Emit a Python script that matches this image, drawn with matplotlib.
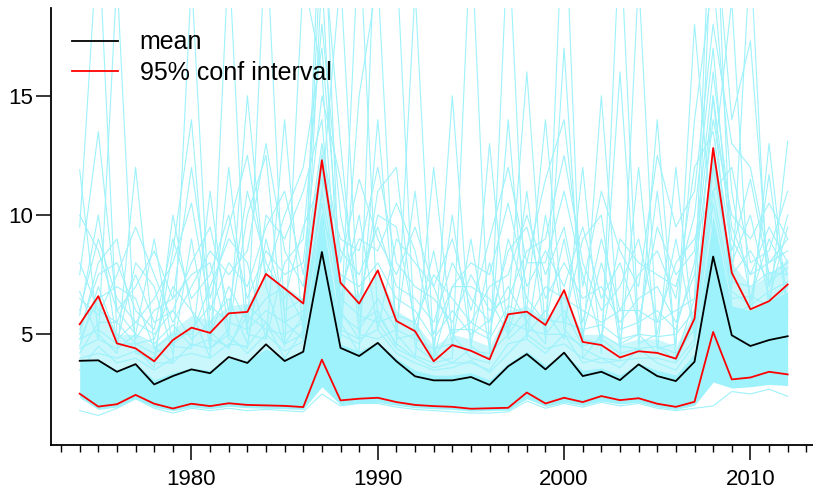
import matplotlib
matplotlib.use('Agg')
import matplotlib.pyplot as plt
from matplotlib.ticker import MultipleLocator

plt.rcParams['font.family'] = ['Liberation Sans', 'DejaVu Sans']

years = list(range(1974, 2013))

mean = [3.89, 3.91, 3.43, 3.75, 2.90, 3.25, 3.53, 3.37, 4.05, 3.80,
        4.58, 3.88, 4.27, 8.45, 4.43, 4.09, 4.64, 3.87, 3.24, 3.07,
        3.07, 3.21, 2.88, 3.66, 4.17, 3.53, 4.23, 3.25, 3.43, 3.08,
        3.74, 3.25, 3.04, 3.85, 8.26, 4.96, 4.51, 4.76, 4.92]
ci_upper = [5.42, 6.60, 4.62, 4.41, 3.87, 4.76, 5.28, 5.06, 5.88, 5.94,
            7.53, 6.92, 6.29, 12.30, 7.16, 6.29, 7.68, 5.56, 5.13, 3.87,
            4.55, 4.31, 3.95, 5.84, 5.95, 5.39, 6.85, 4.68, 4.55, 4.03,
            4.29, 4.22, 3.98, 5.66, 12.81, 7.58, 6.05, 6.39, 7.09]
ci_lower = [2.51, 1.97, 2.07, 2.46, 2.09, 1.89, 2.09, 1.99, 2.11, 2.04,
            2.02, 2.00, 1.95, 3.94, 2.23, 2.30, 2.34, 2.16, 2.04, 1.99,
            1.96, 1.88, 1.90, 1.92, 2.56, 2.10, 2.34, 2.16, 2.41, 2.24,
            2.32, 2.09, 1.96, 2.17, 5.10, 3.11, 3.19, 3.43, 3.32]

# the individual runs: dense core, looser middle, and the spiky ones on top
core_lo = [2.35, 1.85, 1.95, 2.30, 1.95, 1.80, 1.95, 1.88, 1.98, 1.92,
           1.90, 1.88, 1.85, 2.80, 2.05, 2.12, 2.15, 2.02, 1.92, 1.88,
           1.85, 1.78, 1.80, 1.82, 2.30, 1.98, 2.15, 2.02, 2.20, 2.08,
           2.15, 1.95, 1.85, 2.02, 3.00, 2.75, 2.80, 2.90, 2.85]
core_hi = [3.9, 3.9, 3.5, 3.8, 3.1, 3.4, 3.6, 3.5, 4.0, 3.9,
           4.4, 4.0, 4.3, 10.2, 4.6, 4.3, 4.7, 4.0, 3.5, 3.3,
           3.3, 3.4, 3.1, 3.8, 4.3, 3.7, 4.2, 3.5, 3.6, 3.3,
           3.8, 3.5, 3.3, 4.2, 10.0, 6.2, 6.0, 6.4, 6.8]
mid_hi = [5.5, 6.5, 5.0, 5.0, 4.5, 5.2, 5.8, 5.6, 6.2, 6.3,
          7.5, 7.0, 6.5, 13.0, 7.2, 6.5, 7.6, 6.0, 5.5, 4.5,
          5.0, 4.8, 4.5, 6.0, 6.2, 5.6, 6.8, 5.0, 5.0, 4.6,
          4.8, 4.8, 4.5, 6.0, 13.0, 8.0, 7.0, 7.5, 8.2]
runs = [
    [11.9, 5.0, 4.2, 12.0, 4.5, 3.8, 20.0, 5.1, 4.4, 6.2, 5.5, 4.0, 5.2, 25.0, 6.0, 4.8, 14.0, 5.0, 4.1, 3.8,
     4.0, 22.0, 4.2, 5.0, 6.1, 14.0, 5.2, 4.4, 4.0, 3.9, 20.0, 4.5, 3.9, 5.5, 15.0, 6.2, 5.4, 13.0, 6.0],
    [9.5, 22.0, 5.0, 4.4, 3.6, 10.0, 6.0, 4.0, 21.0, 5.0, 4.8, 14.0, 5.0, 11.0, 20.0, 5.5, 6.0, 4.5, 19.5, 4.2,
     3.8, 4.4, 13.0, 4.8, 5.5, 4.6, 24.0, 4.0, 5.0, 4.5, 4.4, 14.0, 4.0, 6.5, 26.0, 7.0, 21.0, 5.5, 6.5],
    [7.5, 13.5, 6.0, 5.0, 9.0, 4.5, 4.4, 11.0, 5.0, 15.0, 7.0, 4.5, 20.0, 16.0, 5.0, 22.0, 5.5, 4.4, 4.0, 12.0,
     5.0, 4.0, 3.8, 22.0, 5.0, 6.0, 4.8, 12.0, 4.2, 22.0, 5.0, 4.2, 12.0, 4.8, 12.0, 19.0, 5.8, 6.0, 13.1],
    [6.8, 4.8, 20.0, 4.2, 4.0, 8.5, 14.0, 4.6, 12.0, 5.0, 22.0, 5.5, 4.8, 20.0, 5.5, 4.2, 25.0, 21.0, 4.5, 3.9,
     15.0, 4.5, 4.0, 6.0, 16.0, 5.0, 5.0, 4.5, 15.0, 4.6, 5.0, 11.0, 4.5, 18.0, 9.0, 5.8, 6.2, 11.7, 5.8],
    [5.8, 10.0, 4.6, 8.0, 7.0, 4.2, 9.0, 4.4, 5.2, 10.0, 12.5, 4.6, 5.8, 22.0, 13.0, 5.0, 4.8, 5.2, 11.0, 4.4,
     10.0, 4.6, 8.0, 5.2, 11.0, 4.8, 17.0, 4.8, 4.6, 16.0, 4.6, 5.0, 9.0, 5.0, 23.0, 14.0, 17.3, 7.0, 10.0],
    [5.0, 8.0, 9.0, 4.8, 6.0, 6.5, 7.5, 8.0, 4.8, 4.4, 10.0, 9.0, 11.0, 14.0, 4.8, 15.0, 20.0, 4.8, 5.0, 8.5,
     4.6, 9.0, 4.4, 14.0, 4.8, 10.0, 5.5, 9.0, 10.0, 4.4, 12.0, 4.4, 4.6, 14.0, 20.0, 11.0, 6.5, 9.0, 7.5],
    [4.8, 6.5, 7.0, 6.5, 4.4, 5.0, 5.0, 7.0, 9.0, 8.0, 4.8, 8.0, 9.0, 18.0, 10.0, 6.0, 11.0, 12.0, 5.0, 4.0,
     7.0, 7.0, 6.5, 5.0, 8.0, 8.0, 11.0, 7.5, 4.8, 9.0, 8.0, 7.5, 7.0, 10.0, 17.0, 8.0, 10.0, 6.5, 9.5],
    [4.5, 7.0, 4.8, 5.5, 5.0, 6.0, 4.8, 5.5, 6.5, 4.6, 9.0, 6.0, 6.5, 12.0, 6.5, 10.0, 5.2, 9.0, 8.0, 7.0,
     5.0, 5.5, 5.0, 9.0, 6.5, 5.5, 9.0, 5.0, 8.0, 5.2, 5.5, 6.0, 5.2, 8.0, 15.0, 9.0, 7.5, 8.0, 8.5],
    [4.2, 5.5, 5.5, 4.6, 4.8, 7.0, 6.0, 5.0, 7.0, 5.5, 6.5, 7.0, 5.5, 10.0, 7.5, 7.0, 8.0, 6.5, 6.0, 4.8,
     6.0, 5.0, 5.6, 7.0, 5.5, 7.0, 6.5, 6.0, 5.5, 6.0, 6.0, 5.5, 6.0, 6.5, 12.0, 7.5, 8.5, 7.2, 7.8],
    [3.5, 4.5, 3.8, 4.0, 3.5, 4.0, 4.2, 4.0, 4.6, 4.5, 5.5, 4.6, 5.0, 9.0, 5.0, 4.6, 5.8, 4.6, 4.0, 3.6,
     3.8, 3.8, 3.5, 4.6, 4.8, 4.2, 5.0, 3.8, 4.0, 3.6, 4.4, 3.8, 3.5, 4.6, 9.5, 5.8, 5.5, 5.8, 6.0],
    [6.0, 9.0, 6.5, 5.5, 6.5, 8.0, 10.5, 6.0, 8.0, 7.0, 9.5, 11.0, 7.5, 13.0, 8.5, 7.5, 9.5, 7.0, 6.5, 5.5,
     8.0, 6.5, 5.5, 8.5, 9.5, 6.5, 8.0, 6.5, 7.0, 5.5, 6.5, 7.0, 5.5, 7.5, 14.0, 10.0, 9.0, 10.5, 9.0],
    [8.0, 6.0, 5.5, 7.5, 5.5, 6.0, 8.0, 9.5, 6.0, 11.0, 8.0, 6.5, 9.5, 11.5, 9.0, 8.5, 12.0, 8.0, 7.0, 6.5,
     5.5, 7.5, 6.0, 6.5, 8.5, 9.0, 12.5, 8.0, 6.0, 7.0, 9.0, 5.5, 8.0, 9.0, 11.0, 12.0, 8.0, 8.5, 11.0],
    [5.2, 7.5, 8.0, 6.0, 5.2, 9.0, 6.5, 7.5, 10.0, 6.5, 8.5, 7.5, 8.0, 15.0, 11.5, 6.5, 10.0, 9.5, 5.5, 7.5,
     6.5, 5.5, 7.0, 7.5, 10.0, 7.5, 9.5, 5.5, 9.0, 6.0, 7.5, 8.5, 6.5, 12.0, 13.5, 8.5, 11.5, 7.5, 8.0],
    [4.8, 5.2, 4.6, 4.6, 4.2, 4.6, 5.2, 6.2, 5.5, 5.2, 6.0, 5.5, 6.0, 10.5, 5.8, 5.2, 6.5, 5.2, 4.8, 4.4,
     4.6, 4.3, 4.2, 5.5, 5.2, 5.0, 6.0, 4.5, 4.8, 4.2, 4.4, 4.5, 4.2, 5.2, 11.0, 6.8, 6.2, 6.8, 7.2],
    [4.0, 4.2, 4.0, 4.3, 3.8, 3.8, 4.6, 4.4, 5.0, 4.2, 5.0, 4.3, 4.7, 9.8, 5.2, 4.8, 5.2, 4.2, 3.8, 3.5,
     3.6, 3.9, 3.4, 4.2, 5.0, 4.4, 4.6, 4.0, 3.8, 3.9, 4.0, 4.0, 3.8, 4.8, 10.5, 6.5, 6.6, 6.2, 7.0],
    [6.5, 5.8, 7.5, 9.5, 7.5, 5.5, 7.0, 8.5, 7.5, 8.5, 13.0, 8.5, 7.0, 12.5, 7.0, 9.0, 8.5, 10.5, 8.5, 5.0,
     7.0, 8.0, 7.5, 10.5, 7.0, 8.5, 7.0, 9.5, 6.5, 8.0, 5.5, 9.5, 7.5, 8.5, 16.0, 9.5, 7.5, 9.5, 8.0],
    [10.0, 8.5, 6.0, 7.0, 8.5, 6.5, 12.0, 6.5, 9.5, 12.5, 7.5, 10.0, 12.0, 17.0, 8.0, 11.5, 9.0, 7.5, 9.5, 7.0,
     9.0, 6.0, 9.0, 12.0, 8.0, 11.5, 14.0, 7.0, 11.0, 8.5, 7.0, 12.5, 9.5, 11.0, 18.0, 13.0, 12.0, 8.0, 9.0],
    [4.4, 4.8, 4.4, 5.0, 4.6, 5.4, 4.5, 4.8, 4.5, 5.8, 5.2, 5.0, 5.5, 11.0, 6.5, 5.8, 5.5, 5.8, 5.5, 4.0,
     5.2, 5.2, 4.8, 6.2, 5.8, 5.6, 5.5, 5.2, 5.4, 4.8, 5.0, 4.9, 5.0, 6.0, 12.5, 7.2, 7.0, 7.6, 7.5],
    [1.8, 1.6, 1.9, 2.3, 1.9, 1.7, 1.9, 1.8, 1.9, 1.8, 1.85, 1.8, 1.75, 2.5, 2.0, 2.1, 2.1, 1.95, 1.85, 1.8,
     1.75, 1.7, 1.7, 1.75, 2.2, 1.9, 2.1, 1.95, 2.15, 2.0, 2.1, 1.9, 1.8, 1.9, 2.0, 2.6, 2.5, 2.7, 2.4],
]

CYAN = '#9ef2fb'

fig = plt.figure(figsize=(8.13, 4.91), dpi=100)
ax = fig.add_axes([0.0625, 0.0937, 0.9375, 0.889])

ax.fill_between(years, core_hi, mid_hi, color=CYAN, alpha=0.55, lw=0, zorder=1)
ax.fill_between(years, core_lo, core_hi, color=CYAN, lw=0, zorder=1)
for r in runs:
    ax.plot(years, r, color=CYAN, lw=0.8, zorder=2)

ax.plot(years, ci_upper, color='red', lw=1.3, zorder=4, label='95% conf interval')
ax.plot(years, ci_lower, color='red', lw=1.3, zorder=4)
ax.plot(years, mean, color='black', lw=1.3, zorder=5, label='mean')

ax.set_xlim(1972.45, 2013.36)
ax.set_ylim(0.36, 18.66)
ax.xaxis.set_major_locator(MultipleLocator(10))
ax.xaxis.set_minor_locator(MultipleLocator(1))
ax.yaxis.set_major_locator(MultipleLocator(5))
for s in ('top', 'right'):
    ax.spines[s].set_visible(False)
for s in ('left', 'bottom'):
    ax.spines[s].set_linewidth(1.3)
ax.tick_params(axis='both', which='major', direction='out', length=11,
               width=1.1, labelsize=16)
ax.tick_params(axis='x', which='minor', direction='out', length=5, width=1.0)
ax.tick_params(axis='x', which='major', pad=6)
ax.tick_params(axis='y', which='major', pad=2)

h, l = ax.get_legend_handles_labels()
ax.legend(h[::-1], l[::-1], loc='upper left', bbox_to_anchor=(0.005, 0.99),
          frameon=False, fontsize=18, handlelength=1.85, handletextpad=0.85,
          labelspacing=0.25, borderaxespad=0.3)

fig.savefig('out.png', dpi=100)
